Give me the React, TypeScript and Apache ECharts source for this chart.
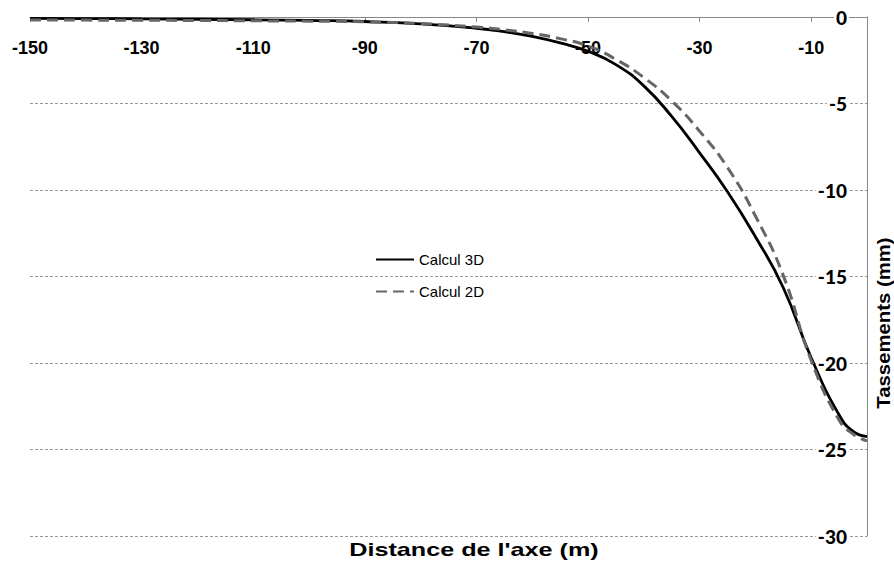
import React, { useEffect, useRef } from "react";
import * as echarts from "echarts";

const distances = [-150, -140, -130, -120, -110, -100, -90, -80, -70, -65, -60, -55, -50, -45, -40, -35, -30, -25, -20, -15, -10, -5, -2.5, 0];
const calcul3D = [-0.08, -0.09, -0.11, -0.13, -0.16, -0.2, -0.26, -0.4, -0.65, -0.85, -1.12, -1.5, -1.98, -2.75, -3.98, -5.75, -7.85, -10.1, -12.7, -15.65, -19.7, -23.0, -23.95, -24.25];
const calcul2D = [-0.17, -0.18, -0.19, -0.2, -0.22, -0.24, -0.28, -0.38, -0.58, -0.74, -0.95, -1.25, -1.68, -2.45, -3.5, -4.85, -6.6, -8.7, -11.5, -14.95, -19.85, -23.3, -24.1, -24.5];
const seriesNames = ["Calcul 3D", "Calcul 2D"];
const xAxisTitle = "Distance de l'axe (m)";
const yAxisTitle = "Tassements (mm)";

export default function App() {
  const ref = useRef<HTMLDivElement>(null);
  useEffect(() => {
    if (!ref.current) return;
    const chart = echarts.init(ref.current, undefined, { renderer: "svg" });
    const d3 = distances.map((x, i) => [x, calcul3D[i]]);
    const d2 = distances.map((x, i) => [x, calcul2D[i]]);
    chart.setOption({
      animation: false,
      backgroundColor: "#fff",
      grid: { left: 30, right: 27, top: 17, bottom: 26, containLabel: false },
      legend: {
        orient: "vertical",
        left: 375,
        top: 252,
        itemWidth: 38,
        itemHeight: 14,
        itemGap: 17,
        padding: 0,
        itemStyle: { opacity: 0, color: "transparent", borderWidth: 0 },
        textStyle: { fontFamily: "'Liberation Sans', Arial", fontSize: 15, color: "#000" },
        data: seriesNames,
      },
      xAxis: {
        type: "value",
        position: "top",
        min: -150,
        max: 0,
        interval: 20,
        axisLine: { show: true, lineStyle: { color: "#888", width: 1 } },
        axisTick: { show: true, inside: true, length: 5, lineStyle: { color: "#888" } },
        axisLabel: {
          inside: true,
          margin: 22,
          fontFamily: "'Liberation Sans', Arial",
          fontWeight: "bold",
          fontSize: 18,
          color: "#000",
          formatter: (v: number) => (v === 0 ? "" : String(v)),
        },
        splitLine: { show: false },
      },
      yAxis: {
        type: "value",
        position: "right",
        min: -30,
        max: 0,
        interval: 5,
        axisLine: { show: true, lineStyle: { color: "#888", width: 1 } },
        axisTick: { show: false },
        axisLabel: {
          inside: true,
          margin: 18,
          fontFamily: "Lato, 'Liberation Sans'",
          fontWeight: 900,
          fontSize: 19,
          color: "#000",
          backgroundColor: "#fff",
          padding: [0, 2],
        },
        splitLine: { show: true, lineStyle: { color: "#999", width: 1, type: [3, 2] } },
      },
      series: [
        {
          name: seriesNames[0],
          type: "line",
          data: d3,
          smooth: 0.5,
          symbol: "none",
          z: 3,
          lineStyle: { color: "#000", width: 2.8 },
          itemStyle: { color: "#000" },
        },
        {
          name: seriesNames[1],
          type: "line",
          data: d2,
          smooth: 0.5,
          symbol: "none",
          z: 4,
          lineStyle: { color: "#666", width: 3, type: [11, 6] },
          itemStyle: { color: "#666" },
        },
      ],
      graphic: [
        {
          type: "text",
          x: 474,
          y: 550,
          scaleX: 1.4,
          style: {
            text: xAxisTitle,
            fontFamily: "'Liberation Sans', Arial",
            fontWeight: "bold",
            fontSize: 18,
            fill: "#000",
            align: "center",
            verticalAlign: "middle",
          },
        },
        {
          type: "text",
          x: 884,
          y: 323,
          rotation: Math.PI / 2,
          scaleX: 1.13,
          style: {
            text: yAxisTitle,
            fontFamily: "'Liberation Sans', Arial",
            fontWeight: "bold",
            fontSize: 18,
            fill: "#000",
            align: "center",
            verticalAlign: "middle",
          },
        },
      ],
    });
    return () => chart.dispose();
  }, []);
  return <div ref={ref} style={{ position: "fixed", left: 0, top: 0, width: 894, height: 562 }} />;
}
